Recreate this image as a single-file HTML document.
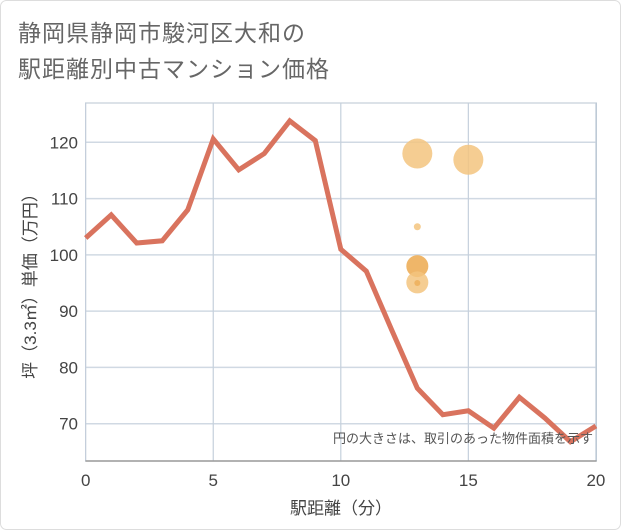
<!DOCTYPE html>
<html><head><meta charset="utf-8"><style>
body{margin:0;background:#fff;}
#wrap{position:relative;width:621px;height:530px;overflow:hidden;font-family:"Liberation Sans","Noto Sans CJK JP",sans-serif;}
</style></head><body>
<div id="wrap">
<svg id="svg" width="621" height="530">
<rect x="0.5" y="0.5" width="620" height="529" rx="6" fill="#fff" stroke="#ddd"/>
<text x="18" y="41" font-size="23" fill="#666" letter-spacing="1" font-family="Liberation Sans, Noto Sans CJK JP, sans-serif">静岡県静岡市駿河区大和の</text>
<text x="18" y="77" font-size="23" fill="#666" letter-spacing="1" font-family="Liberation Sans, Noto Sans CJK JP, sans-serif">駅距離別中古マンション価格</text>
<g id="grid"></g>
<g id="marks"></g>
<g id="axes"></g>
<text x="593" y="443" font-size="13" fill="#555" text-anchor="end">円の大きさは、取引のあった物件面積を示す</text>
<text x="341" y="514" font-size="17" fill="#444" text-anchor="middle">駅距離（分）</text>
<text transform="translate(36,282) rotate(-90)" font-size="17" fill="#444" text-anchor="middle">坪（3.3㎡）単価（万円）</text>
</svg>
</div>
<script>
const lineX = [0,1,2,3,4,5,6,7,8,9,10,11,12,13,14,15,16,17,18,19,20];
const lineY = [103.0,107.1,102.1,102.5,108.0,120.6,115.1,118.0,123.8,120.3,101.0,97.1,86.6,76.3,71.6,72.3,69.2,74.7,71.0,66.8,69.6];
const bubbleX = [13,15,13,13,13,13];
const bubbleY = [118.0,116.9,105.0,98.0,95.1,95.0];
const bubbleR = [15,15,3.5,11,11,3];
const bubbleDark = [0,0,0,1,0,1];
const xTicks = [0,5,10,15,20];
const yTicks = [70,80,90,100,110,120];

const L=85.5,R=596.5,T=103,B=461;
const sx=v=>85.7+v*25.51;
const sy=v=>423.7-(v-70)*5.628;
const NS="http://www.w3.org/2000/svg";
function mk(t,a,p){const e=document.createElementNS(NS,t);for(const k in a)e.setAttribute(k,a[k]);p.appendChild(e);return e;}
const grid=document.getElementById('grid'),marks=document.getElementById('marks'),axes=document.getElementById('axes');
mk('rect',{x:L,y:T,width:R-L,height:B-T,fill:'none',stroke:'#b8c4d0'},grid);
yTicks.forEach(v=>{
  const l=mk('line',{x1:L,x2:R,y1:sy(v),y2:sy(v),stroke:'#d0d9e3','stroke-width':1.5},grid);
  
  
  const t=mk('text',{x:78,y:sy(v)+6,'font-size':17,fill:'#444','text-anchor':'end'},axes);
  t.textContent=v;
  
  
});
xTicks.forEach(v=>{
  const l=mk('line',{x1:sx(v),x2:sx(v),y1:T,y2:B,stroke:'#c5d0dc','stroke-width':1.2},grid);
  
  
  const t=mk('text',{x:sx(v),y:486,'font-size':17,fill:'#444','text-anchor':'middle'},axes);
  t.textContent=v;
  
  
});
mk('line',{x1:L,x2:R,y1:B,y2:B,stroke:'#999','stroke-width':1.5},axes);
bubbleX.forEach((x,i)=>{
  const c=mk('circle',{cx:sx(x),cy:sy(bubbleY[i]),r:bubbleR[i],fill:bubbleDark[i]?'#eeb261':'#f3c47f','fill-opacity':bubbleDark[i]?0.95:0.85},marks);
  
  
});
const pl=mk('polyline',{points:lineX.map((x,i)=>sx(x)+','+sy(lineY[i])).join(' '),fill:'none',stroke:'#d9735e','stroke-width':5,'stroke-linejoin':'miter'},marks);


</script>
</body></html>
